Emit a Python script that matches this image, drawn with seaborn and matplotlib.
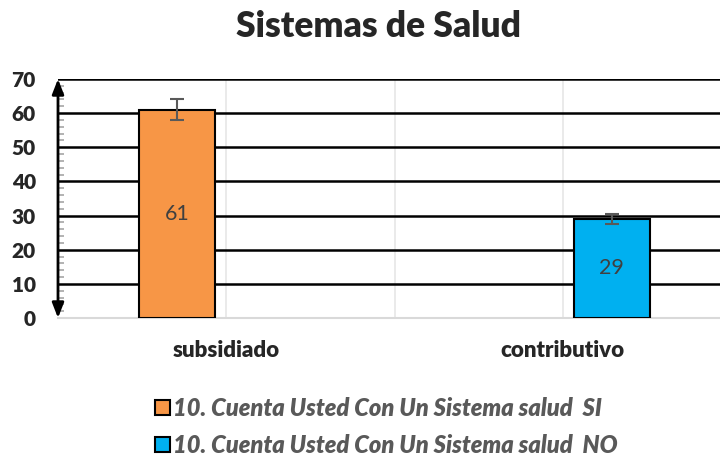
import numpy as np
import pandas as pd
import matplotlib
matplotlib.use("Agg")
import matplotlib.pyplot as plt
import seaborn as sns

# datos del grafico
categorias = ["subsidiado", "contributivo"]
series = ["10. Cuenta Usted Con Un Sistema salud  SI",
          "10. Cuenta Usted Con Un Sistema salud  NO"]
valores = [61, 29]
errores = [3, 1.5]
colores = ["#f79646", "#00b0f0"]
titulo = "Sistemas de Salud"

df = pd.DataFrame({"categoria": categorias, "serie": series, "valor": valores})

sns.set_style("white")
plt.rcParams["font.family"] = ["Lato", "DejaVu Sans"]

fig = plt.figure(figsize=(7.2, 4.59), dpi=100)
ax = fig.add_axes([58 / 720, 141 / 459, 1 - 58 / 720, 239 / 459])

sns.barplot(data=df, x="categoria", y="valor", hue="serie", order=categorias,
            hue_order=series, palette=colores, saturation=1, dodge=True,
            width=0.583, gap=0.22, errorbar=None, edgecolor="black",
            linewidth=1.5, ax=ax, zorder=3)

# barras de error y etiquetas
for i, s in enumerate(series):
    for p in ax.containers[i]:
        h = p.get_height()
        if np.isnan(h) or h == 0:
            continue
        xc = p.get_x() + p.get_width() / 2
        ax.errorbar(xc, h, yerr=errores[i], color="#595959", lw=1.5,
                    capsize=5, capthick=1.5, zorder=4)
        ax.text(xc, h / 2, f"{h:g}", ha="center", va="center",
                fontsize=15.5, color="#404040", zorder=5)

ax.set_ylim(0, 70)
ax.set_xlim(-0.5, 1.467)
ax.set_yticks(range(0, 71, 10))
ax.set_yticks(range(0, 71, 2), minor=True)
ax.set_xticks([0.5], minor=True)

ax.grid(axis="y", which="major", color="black", lw=1.8, zorder=1)
ax.grid(axis="x", which="both", color="#e6e6e6", lw=1.2, zorder=1)

ax.tick_params(axis="y", which="major", length=8, width=1.5, color="#a6a6a6",
               direction="out", labelsize=15, pad=8)
ax.tick_params(axis="y", which="minor", length=4, width=1.2, color="#a6a6a6",
               direction="in", left=True)
ax.tick_params(axis="x", which="both", length=0, labelsize=16, pad=16)
for lab in ax.get_yticklabels() + ax.get_xticklabels():
    lab.set_fontweight("heavy")

for side in ["top", "right", "left"]:
    ax.spines[side].set_visible(False)
ax.spines["bottom"].set_color("#d9d9d9")
ax.spines["bottom"].set_linewidth(1.5)

# eje vertical con flechas
ax.annotate("", xy=(0, 1.0), xytext=(0, 0.0), xycoords="axes fraction",
            arrowprops=dict(arrowstyle="<|-|>,head_length=0.9,head_width=0.35",
                            color="black", lw=2, shrinkA=0, shrinkB=0),
            zorder=6, annotation_clip=False)

ax.set_xlabel("")
ax.set_ylabel("")
fig.suptitle(titulo, x=0.525, y=0.978, fontsize=25.5, fontweight="heavy")

handles, labels = ax.get_legend_handles_labels()
ax.legend_.remove()
leg = fig.legend(handles, labels, loc="center", bbox_to_anchor=(0.537, 0.07),
                 ncol=1, frameon=False, fontsize=17, handlelength=0.6,
                 handleheight=0.6, handletextpad=0.15, labelspacing=0.62)
for t in leg.get_texts():
    t.set_color("#595959")
    t.set_fontstyle("italic")
    t.set_fontweight("heavy")

fig.savefig("out.png", dpi=100)
